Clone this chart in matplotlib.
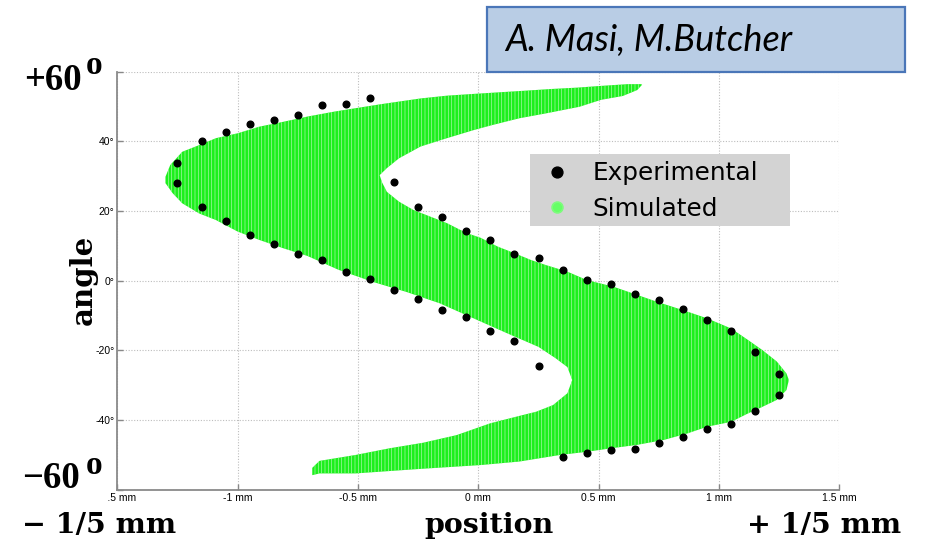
import matplotlib
matplotlib.use("Agg")
import matplotlib.pyplot as plt
from matplotlib.lines import Line2D
from matplotlib.patches import Rectangle

# ---------------- data ----------------
x_ticks = [-1.5, -1.0, -0.5, 0.0, 0.5, 1.0, 1.5]
x_tick_labels = ["-1.5 mm", "-1 mm", "-0.5 mm", "0 mm", "0.5 mm", "1 mm", "1.5 mm"]
y_ticks = [-60, -40, -20, 0, 20, 40, 60]
y_tick_labels = ["", "-40°", "-20°", "0°", "20°", "40°", ""]

# Experimental points: position (mm) and angle (deg)
exp_x = [-0.45, -0.55, -0.65, -0.75, -0.85, -0.95, -1.05, -1.15, -1.25, -1.25,
         -1.15, -1.05, -0.95, -0.85, -0.75, -0.65, -0.55, -0.45, -0.35, -0.25,
         -0.15, -0.05, 0.05, 0.15, 0.25,
         -0.35, -0.25, -0.15, -0.05, 0.05, 0.15, 0.25, 0.35, 0.45, 0.55,
         0.65, 0.75, 0.85, 0.95, 1.05, 1.15, 1.25, 1.25, 1.15, 1.05,
         0.95, 0.85, 0.75, 0.65, 0.55, 0.45, 0.35]
exp_angle = [52.5, 50.7, 50.5, 47.6, 46.2, 44.9, 42.8, 40.2, 33.9, 28.1,
             21.2, 17.2, 13.1, 10.4, 7.7, 5.9, 2.4, 0.4, -2.8, -5.2,
             -8.4, -10.4, -14.3, -17.2, -24.4,
             28.2, 21.1, 18.3, 14.3, 11.6, 7.6, 6.6, 3.0, 0.3, -1.0,
             -3.7, -5.6, -8.0, -11.3, -14.3, -20.6, -26.9, -32.9, -37.4, -41.1,
             -42.6, -44.8, -46.7, -48.3, -48.5, -49.4, -50.6]

# Simulated region outline: position (mm) and angle (deg)
sim_x = [0.68, 0.62, 0.51, 0.41, 0.30, 0.19, -0.02, -0.13, -0.24, -0.40,
         -0.51, -0.60, -0.71, -0.81, -0.91, -1.00, -1.09, -1.16, -1.23, -1.28,
         -1.30,
         -1.30, -1.27, -1.23, -1.16, -1.09, -1.00, -0.91, -0.81, -0.71, -0.58,
         -0.44, -0.30, -0.16, -0.02, 0.12, 0.25, 0.32, 0.37, 0.39,
         0.37, 0.31, 0.24, 0.17, 0.05, -0.09, -0.23, -0.37, -0.51, -0.66,
         -0.69, -0.69,
         -0.66, -0.51, -0.24, 0.01, 0.17, 0.34, 0.45, 0.55, 0.66, 0.77,
         0.87, 0.95, 1.05, 1.12, 1.18, 1.24, 1.28, 1.29,
         1.28, 1.24, 1.18, 1.12, 1.05, 0.95, 0.87, 0.74, 0.64, 0.56,
         0.45, 0.37, 0.28, 0.22, 0.15, 0.08, 0.01, -0.05, -0.13, -0.20,
         -0.27, -0.33, -0.38, -0.40,
         -0.41, -0.38, -0.33, -0.24, -0.13, -0.02, 0.06, 0.17, 0.28, 0.42,
         0.51, 0.60, 0.66, 0.68]
sim_angle = [56.4, 56.4, 55.9, 55.4, 55.0, 54.5, 53.6, 53.1, 52.3, 50.7,
             49.5, 48.5, 47.1, 45.6, 44.2, 42.3, 40.9, 38.9, 37.0, 33.2,
             29.8,
             28.0, 25.1, 22.2, 19.3, 17.4, 14.1, 11.7, 9.3, 7.1, 3.1,
             -0.3, -3.2, -6.5, -10.8, -15.1, -19.0, -22.2, -24.8, -28.5,
             -32.3, -35.7, -37.6, -38.8, -40.9, -44.3, -46.5, -48.1, -50.0, -51.7,
             -53.7, -55.8,
             -55.3, -55.3, -54.0, -52.9, -51.9, -50.0, -49.1, -48.1, -47.1, -45.7,
             -43.8, -41.9, -40.5, -38.1, -36.2, -34.2, -31.4, -28.5,
             -26.6, -23.2, -19.9, -17.0, -13.7, -10.8, -8.9, -6.0, -3.6, -1.7,
             0.2, 2.6, 4.5, 5.9, 7.9, 9.8, 12.3, 13.7, 16.5, 18.4,
             20.3, 22.7, 25.5, 28.2,
             30.3, 32.3, 35.1, 38.5, 40.9, 43.2, 44.7, 46.6, 48.0, 49.9,
             51.9, 53.0, 54.7, 56.2]

# ---------------- figure ----------------
W, H = 930, 544
fig = plt.figure(figsize=(W / 100, H / 100), dpi=100)
fig.patch.set_facecolor("white")


def fx(px):
    return px / W


def fy(py):
    return 1 - py / H


ax = fig.add_axes([fx(117.3), fy(489.8), (839.4 - 117.3) / W, (489.8 - 71.6) / H])
ax.set_xlim(-1.5, 1.5)
ax.set_ylim(-60, 60)

plt.rcParams["hatch.linewidth"] = 0.5
ax.fill(sim_x, sim_angle, facecolor="#1cf01c", edgecolor="#a8f7a8",
        hatch="|||||", linewidth=0, zorder=2)
ax.plot(exp_x, exp_angle, "o", color="black", ms=4.8, zorder=3)

ax.set_xticks(x_ticks)
ax.set_xticklabels(x_tick_labels, family="Liberation Sans", fontsize=7.5)
ax.set_yticks(y_ticks)
ax.set_yticklabels(y_tick_labels, family="Liberation Sans", fontsize=7.5)
ax.tick_params(direction="in", length=4, width=1, color="#888888", pad=2)
ax.grid(True, color="#bdbdbd", linestyle=(0, (1, 1.5)), linewidth=0.8, zorder=0)
ax.set_axisbelow(True)
for s in ("top", "right"):
    ax.spines[s].set_visible(False)
for s in ("left", "bottom"):
    ax.spines[s].set_color("#8a8a8a")
    ax.spines[s].set_linewidth(1.3)

# legend with grey background box
fig.add_artist(Rectangle((fx(530), fy(226)), (790 - 530) / W, (226 - 154) / H,
                         transform=fig.transFigure, facecolor="#d3d3d3",
                         edgecolor="none", zorder=4))
handles = [Line2D([], [], marker="o", ls="none", color="black", ms=7.8),
           Line2D([], [], marker="o", ls="none", mfc="#66ff66", mec="#7dfc7d",
                  mew=1.2, ms=7.8)]
leg = fig.legend(handles, ["Experimental", "Simulated"], loc="upper left",
                 bbox_to_anchor=(fx(530), fy(157)), bbox_transform=fig.transFigure,
                 borderaxespad=0, frameon=False,
                 prop={"family": "DejaVu Sans", "size": 17.8},
                 handlelength=1.86, handletextpad=0.5, borderpad=0.18,
                 labelspacing=0.45)
leg.set_zorder(5)

# axis labels
ax.set_xlabel("position", family="DejaVu Serif", weight="bold", fontsize=20.5)
ax.xaxis.set_label_coords(0.5154, (489.8 - 533) / 418.2)
ax.xaxis.label.set_va("baseline")
ax.set_ylabel("angle", family="DejaVu Serif", weight="bold", fontsize=21)
ax.yaxis.set_label_coords((83.5 - 117.3) / 722.1, 0.5017)
ax.yaxis.label.set_va("center")

# white cover hiding the start of the first x tick label
fig.add_artist(Rectangle((0, fy(504)), fx(107), (504 - 452) / H,
                         transform=fig.transFigure, facecolor="white",
                         edgecolor="none", zorder=6))

big = dict(family="Liberation Serif", weight="bold", zorder=7)
fig.text(fx(24), fy(90), "+60", fontsize=26.5, ha="left", va="baseline", **big)
fig.text(fx(86), fy(74), "o", fontsize=24, ha="left", va="baseline", **big)
fig.text(fx(22), fy(488), "\u221260", fontsize=26.5, ha="left", va="baseline", **big)
fig.text(fx(86), fy(474), "o", fontsize=24, ha="left", va="baseline", **big)

serif = dict(family="DejaVu Serif", weight="bold", zorder=7)
fig.text(fx(22), fy(533), "\u2212 1/5 mm", fontsize=20.5, ha="left", va="baseline", **serif)
fig.text(fx(747), fy(533), "+ 1/5 mm", fontsize=20.5, ha="left", va="baseline", **serif)

# author box
fig.add_artist(Rectangle((fx(487), fy(72)), (905 - 487) / W, (72 - 7) / H,
                         transform=fig.transFigure, facecolor="#b9cde5",
                         edgecolor="#4a76b8", linewidth=1.6, zorder=8))
fig.text(fx(505), fy(40), "A. Masi, M.Butcher", family="Lato", style="italic",
         fontsize=26, ha="left", va="center", zorder=9)

fig.savefig("out.png", dpi=100)
